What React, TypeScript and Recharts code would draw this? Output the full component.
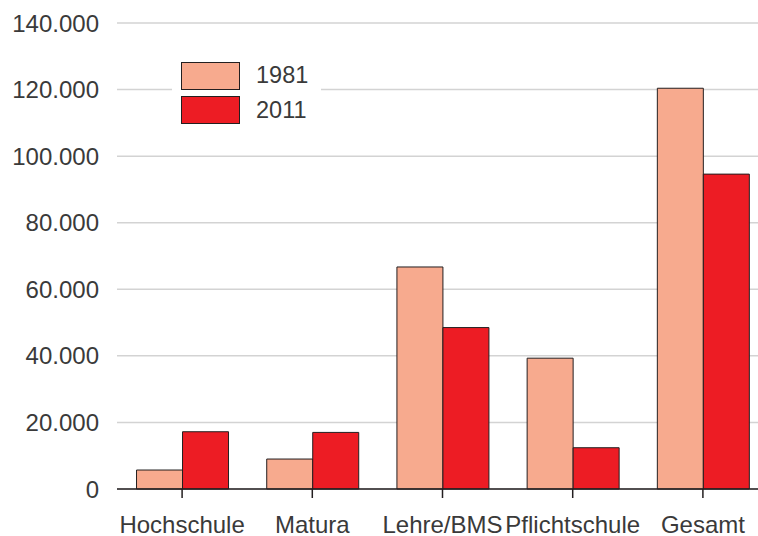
import React from 'react';
import { BarChart, Bar, XAxis, YAxis, CartesianGrid, Legend } from 'recharts';

const categories = ['Hochschule', 'Matura', 'Lehre/BMS', 'Pflichtschule', 'Gesamt'];
const values1981 = [5700, 9000, 66700, 39300, 120400];
const values2011 = [17200, 17000, 48500, 12400, 94600];
const yTicks = [0, 20000, 40000, 60000, 80000, 100000, 120000, 140000];

const data = categories.map((c, i) => ({ name: c, y1981: values1981[i], y2011: values2011[i] }));

const FONT = '"Liberation Sans", Arial, Helvetica, sans-serif';
const TEXT = '#3a3a3a';
const STROKE = '#231f20';

const fmt = (v: number) => String(v).replace(/\B(?=(\d{3})+(?!\d))/g, '.');

const LegendContent = (props: any) => {
  const payload = props.payload || [];
  return (
    <div style={{ background: '#fff', padding: '7px 13px 7px 9px', fontFamily: FONT }}>
      {payload.map((p: any, i: number) => (
        <div key={i} style={{ display: 'flex', alignItems: 'center', height: 27, marginBottom: i === payload.length - 1 ? 0 : 7.5 }}>
          <div style={{ width: 57, height: 26, background: p.color, border: `1px solid ${STROKE}` }} />
          <span style={{ marginLeft: 16, fontSize: 23.5, lineHeight: '27px', color: TEXT }}>{p.value}</span>
        </div>
      ))}
    </div>
  );
};

export default function App() {
  return (
    <div style={{ position: 'absolute', left: 0, top: 0, width: 758, height: 536, background: '#fff' }}>
      <BarChart
        width={758}
        height={536}
        data={data}
        margin={{ top: 23, right: -10, bottom: 17, left: 1 }}
        barCategoryGap="15%"
        barGap={0}
      >
        <CartesianGrid vertical={false} stroke="#d3d3d3" strokeWidth={1.5} />
        <XAxis
          dataKey="name"
          height={30}
          axisLine={{ stroke: STROKE, strokeWidth: 1.5 }}
          tickLine={{ stroke: STROKE, strokeWidth: 1.5 }}
          tickSize={9}
          tickMargin={18}
          interval={0}
          tick={{ fill: TEXT, fontSize: 24, fontFamily: FONT }}
        />
        <YAxis
          width={116}
          domain={[0, 140000]}
          ticks={yTicks}
          tickFormatter={fmt}
          axisLine={false}
          tickLine={false}
          tickSize={0}
          tickMargin={18}
          tick={{ fill: TEXT, fontSize: 24, fontFamily: FONT }}
        />
        <Legend
          layout="horizontal"
          verticalAlign="middle"
          align="center"
          content={<LegendContent />}
          wrapperStyle={{ position: 'absolute', left: 172, top: 55, width: 'auto', height: 'auto' }}
        />
        <Bar dataKey="y1981" name="1981" fill="#f7aa8e" stroke={STROKE} strokeWidth={1} isAnimationActive={false} />
        <Bar dataKey="y2011" name="2011" fill="#ed1c24" stroke={STROKE} strokeWidth={1} isAnimationActive={false} />
      </BarChart>
    </div>
  );
}
